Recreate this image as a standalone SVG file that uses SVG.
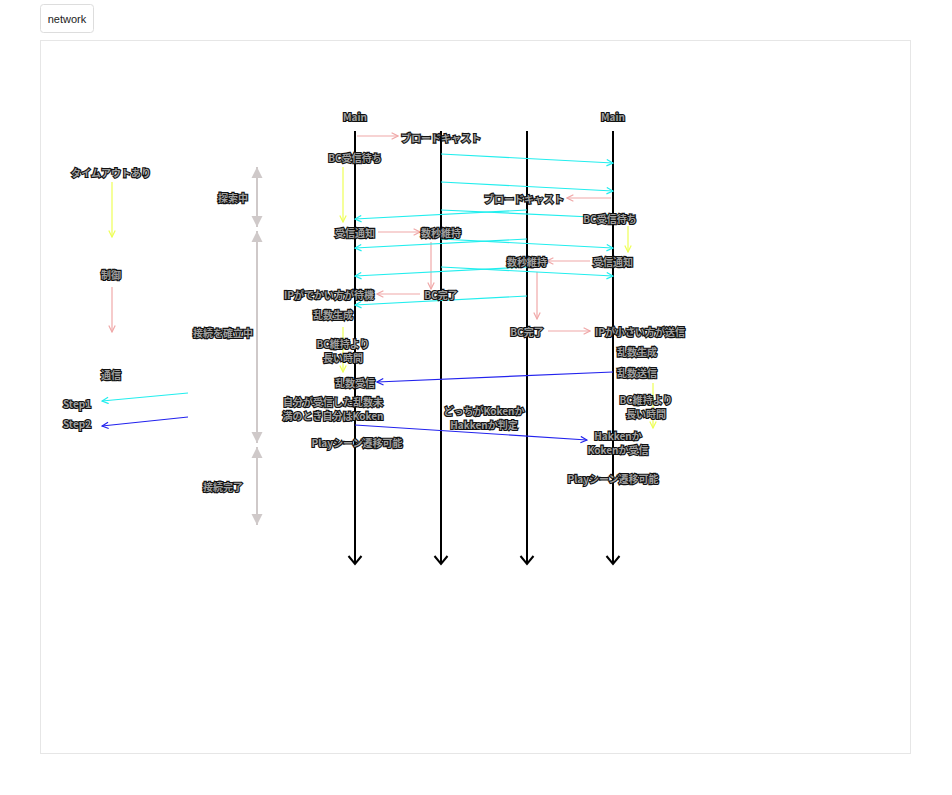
<svg xmlns="http://www.w3.org/2000/svg" width="952" height="795" viewBox="0 0 952 795">
<style>
.t{font-family:"Noto Sans CJK JP","Noto Sans",sans-serif;font-size:10px;font-weight:bold;fill:#a0a0a0;stroke:#111;stroke-width:2.2px;paint-order:stroke fill;text-anchor:middle;dominant-baseline:central}
.life{stroke:#000;stroke-width:2;fill:none}
.pk{stroke:#f0a8a8;stroke-width:1.2;fill:none}
.yl{stroke:#eeff55;stroke-width:1.2;fill:none}
.cy{stroke:#22eeee;stroke-width:1.2;fill:none}
.bl{stroke:#2222ee;stroke-width:1.2;fill:none}
.gr{stroke:#cfc9c9;stroke-width:2;fill:none}
</style>
<defs>
<marker id="mpk" viewBox="0 0 10 10" refX="9" refY="5" markerWidth="8" markerHeight="8" markerUnits="userSpaceOnUse" orient="auto"><path d="M1,1 L9,5 L1,9" fill="none" stroke="#f0a8a8" stroke-width="1.5"/></marker>
<marker id="myl" viewBox="0 0 10 10" refX="9" refY="5" markerWidth="8" markerHeight="8" markerUnits="userSpaceOnUse" orient="auto"><path d="M1,1 L9,5 L1,9" fill="none" stroke="#eeff55" stroke-width="1.5"/></marker>
<marker id="mcy" viewBox="0 0 10 10" refX="9" refY="5" markerWidth="8" markerHeight="8" markerUnits="userSpaceOnUse" orient="auto"><path d="M1,1 L9,5 L1,9" fill="none" stroke="#22eeee" stroke-width="1.5"/></marker>
<marker id="mbl" viewBox="0 0 10 10" refX="9" refY="5" markerWidth="8" markerHeight="8" markerUnits="userSpaceOnUse" orient="auto"><path d="M1,1 L9,5 L1,9" fill="none" stroke="#2222ee" stroke-width="1.5"/></marker>
<marker id="mlife" viewBox="0 0 16 16" refX="14" refY="8" markerWidth="16" markerHeight="16" markerUnits="userSpaceOnUse" orient="auto"><path d="M6,1.5 L14,8 L6,14.5" fill="none" stroke="#000" stroke-width="2"/></marker>
<marker id="mgr" viewBox="0 0 12 12" refX="11" refY="6" markerWidth="12" markerHeight="12" markerUnits="userSpaceOnUse" orient="auto-start-reverse"><path d="M0,0.5 L11,6 L0,11.5 Z" fill="#cfc9c9"/></marker>
</defs>
<rect x="0" y="0" width="952" height="795" fill="#fff"/>
<g id="tab"><rect x="40.5" y="4.5" width="53" height="28" rx="3" fill="#fff" stroke="#ddd"/><text x="67" y="19" font-family="Liberation Sans,Arial,sans-serif" font-size="11" text-anchor="middle" dominant-baseline="central" fill="#222">network</text></g>
<rect x="40.5" y="40.5" width="870" height="713" fill="#fff" stroke="#e6e6e6"/>

<g id="connectors">
<path class="life" d="M355,131 V564" marker-end="url(#mlife)"/>
<path class="life" d="M441,131 V564" marker-end="url(#mlife)"/>
<path class="life" d="M527,131 V564" marker-end="url(#mlife)"/>
<path class="life" d="M613,131 V564" marker-end="url(#mlife)"/>

<path class="pk" d="M357,136 H398" marker-end="url(#mpk)"/>
<path class="pk" d="M611,198 H567" marker-end="url(#mpk)"/>
<path class="pk" d="M378,232 H420" marker-end="url(#mpk)"/>
<path class="pk" d="M431,242 V289" marker-end="url(#mpk)"/>
<path class="pk" d="M420,294 H377" marker-end="url(#mpk)"/>
<path class="pk" d="M590,261 H547" marker-end="url(#mpk)"/>
<path class="pk" d="M537,272 V319" marker-end="url(#mpk)"/>
<path class="pk" d="M548,331 H590" marker-end="url(#mpk)"/>
<path class="pk" d="M112,287 V332" marker-end="url(#mpk)"/>

<path class="yl" d="M343,167 V222" marker-end="url(#myl)"/>
<path class="yl" d="M628,226 V252" marker-end="url(#myl)"/>
<path class="yl" d="M343,327 V372" marker-end="url(#myl)"/>
<path class="yl" d="M653,383 V428" marker-end="url(#myl)"/>
<path class="yl" d="M112,182 V237" marker-end="url(#myl)"/>

<path class="cy" d="M441,154 L613,163" marker-end="url(#mcy)"/>
<path class="cy" d="M441,182 L613,191" marker-end="url(#mcy)"/>
<path class="cy" d="M527,210 L355,219" marker-end="url(#mcy)"/>
<path class="cy" d="M441,210 L613,218" marker-end="url(#mcy)"/>
<path class="cy" d="M527,239 L355,248" marker-end="url(#mcy)"/>
<path class="cy" d="M441,239 L613,248" marker-end="url(#mcy)"/>
<path class="cy" d="M527,267 L355,276" marker-end="url(#mcy)"/>
<path class="cy" d="M441,267 L613,276" marker-end="url(#mcy)"/>
<path class="cy" d="M527,296 L355,305" marker-end="url(#mcy)"/>
<path class="cy" d="M188,393 L102,401" marker-end="url(#mcy)"/>

<path class="bl" d="M613,372 L377,382" marker-end="url(#mbl)"/>
<path class="bl" d="M355,425 L587,440" marker-end="url(#mbl)"/>
<path class="bl" d="M188,417 L102,426" marker-end="url(#mbl)"/>

<path class="gr" d="M257,167 V227" marker-start="url(#mgr)" marker-end="url(#mgr)"/>
<path class="gr" d="M257,231 V443" marker-start="url(#mgr)" marker-end="url(#mgr)"/>
<path class="gr" d="M257,447 V525" marker-start="url(#mgr)" marker-end="url(#mgr)"/>
</g>

<g id="n-main1"><text class="t" x="355" y="116">Main</text></g>
<g id="n-main2"><text class="t" x="613" y="116">Main</text></g>
<g id="n-bc1"><text class="t" x="441" y="137">ブロードキャスト</text></g>
<g id="n-wait1"><text class="t" x="355" y="157">BC受信待ち</text></g>
<g id="n-bc2"><text class="t" x="524" y="198">ブロードキャスト</text></g>
<g id="n-wait2"><text class="t" x="610" y="218">BC受信待ち</text></g>
<g id="n-recv1"><text class="t" x="355" y="232">受信通知</text></g>
<g id="n-keep1"><text class="t" x="441" y="232">数秒維持</text></g>
<g id="n-keep2"><text class="t" x="527" y="261">数秒維持</text></g>
<g id="n-recv2"><text class="t" x="613" y="261">受信通知</text></g>
<g id="n-ipbig"><text class="t" x="329" y="294">IPがでかい方が待機</text></g>
<g id="n-done1"><text class="t" x="441" y="294">BC完了</text></g>
<g id="n-rand1"><text class="t" x="333" y="314">乱数生成</text></g>
<g id="n-done2"><text class="t" x="527" y="331">BC完了</text></g>
<g id="n-ipsmall"><text class="t" x="640" y="331">IPが小さい方が送信</text></g>
<g id="n-long1"><text class="t" x="343" y="343">BC維持より</text><text class="t" x="343" y="357">長い時間</text></g>
<g id="n-rand2"><text class="t" x="637" y="351">乱数生成</text></g>
<g id="n-send"><text class="t" x="637" y="372">乱数送信</text></g>
<g id="n-rrecv"><text class="t" x="355" y="382">乱数受信</text></g>
<g id="n-long2"><text class="t" x="646" y="399">BC維持より</text><text class="t" x="646" y="413">長い時間</text></g>
<g id="n-koken"><text class="t" x="333" y="401">自分が受信した乱数未</text><text class="t" x="333" y="415">満のとき自分はKoken</text></g>
<g id="n-judge"><text class="t" x="484" y="410">どっちがKokenか</text><text class="t" x="484" y="424">Hakkenか判定</text></g>
<g id="n-hk"><text class="t" x="618" y="435">Hakkenか</text><text class="t" x="618" y="449">Kokenか受信</text></g>
<g id="n-play1"><text class="t" x="357" y="442">Playシーン遷移可能</text></g>
<g id="n-play2"><text class="t" x="613" y="478">Playシーン遷移可能</text></g>
<g id="n-timeout"><text class="t" x="111" y="172">タイムアウトあり</text></g>
<g id="n-ctrl"><text class="t" x="111" y="274">制御</text></g>
<g id="n-comm"><text class="t" x="111" y="374">通信</text></g>
<g id="n-step1"><text class="t" x="77" y="403">Step1</text></g>
<g id="n-step2"><text class="t" x="77" y="423">Step2</text></g>
<g id="n-search"><text class="t" x="233" y="197">探索中</text></g>
<g id="n-connecting"><text class="t" x="223" y="332">接続を確立中</text></g>
<g id="n-connected"><text class="t" x="223" y="486">接続完了</text></g>
</svg>
